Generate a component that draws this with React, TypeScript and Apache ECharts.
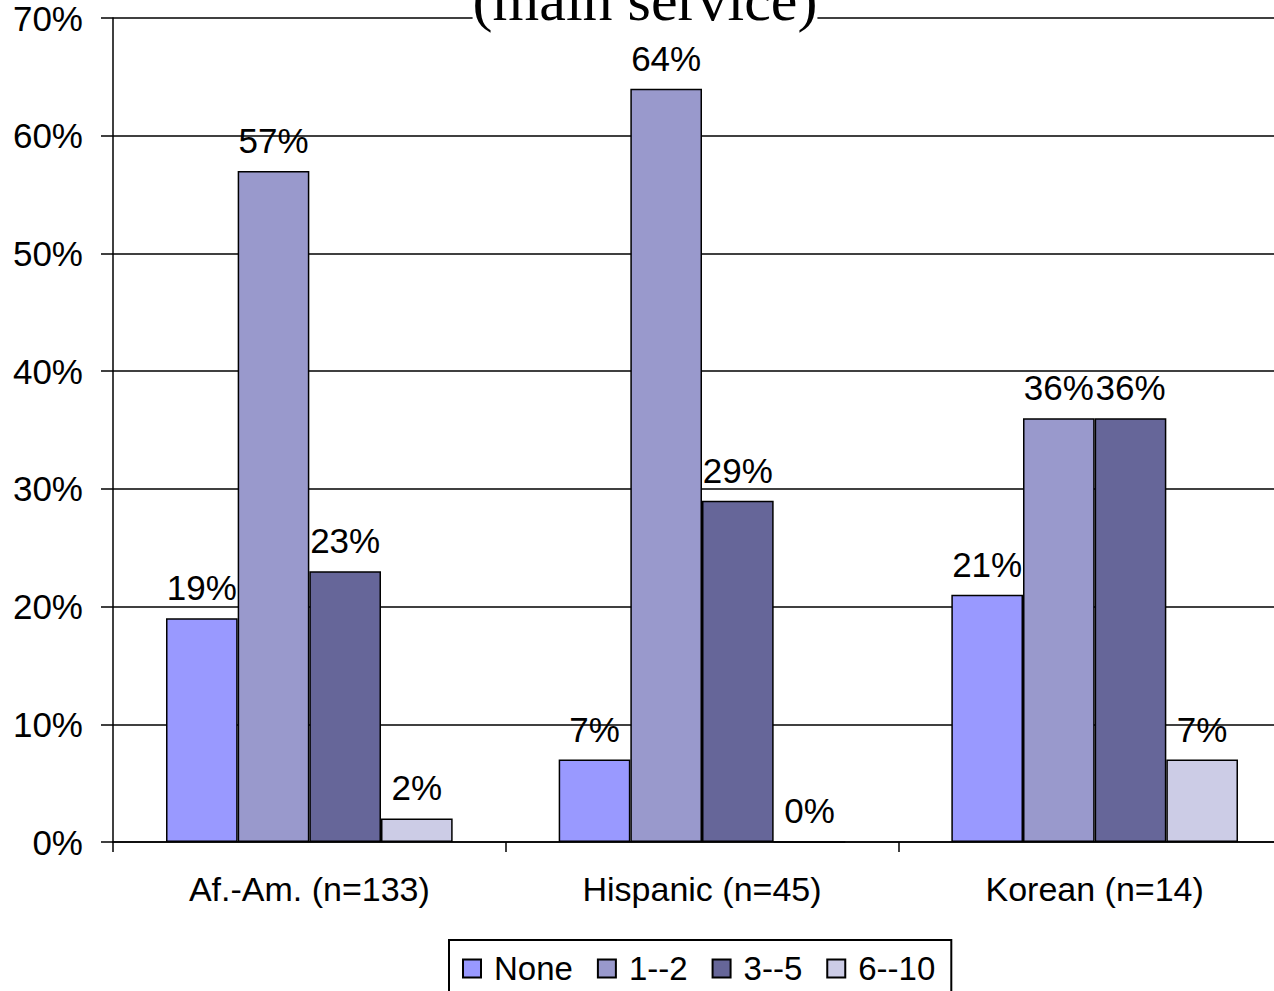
import React, { useEffect, useRef } from "react";
import * as echarts from "echarts";

const categories = ["Af.-Am. (n=133)", "Hispanic (n=45)", "Korean (n=14)"];
const seriesNames = ["None", "1--2", "3--5", "6--10"];
const noneValues = [19, 7, 21];
const oneTwoValues = [57, 64, 36];
const threeFiveValues = [23, 29, 36];
const sixTenValues = [2, 0, 7];
const seriesColors = ["#9999FF", "#9999CC", "#666699", "#CCCCE6"];
const titleText = "(main service)";

const FONT = "'Liberation Sans', Arial, sans-serif";

export default function App() {
  const ref = useRef<HTMLDivElement>(null);
  useEffect(() => {
    document.body.style.margin = "0";
    if (!ref.current) return;
    const chart = echarts.init(ref.current, null, { renderer: "svg" });
    const values = [noneValues, oneTwoValues, threeFiveValues, sixTenValues];
    chart.setOption({
      animation: false,
      backgroundColor: "#ffffff",
      grid: { left: 113, right: 0, top: 18, bottom: 149, containLabel: false },
      legend: {
        left: 449,
        top: 940,
        icon: "rect",
        itemWidth: 18,
        itemHeight: 18,
        itemGap: 24,
        padding: [12, 16, 30, 13],
        borderColor: "#000",
        borderWidth: 2,
        textStyle: { fontSize: 33, color: "#000", fontFamily: FONT, padding: [0, 0, 0, 8] },
        data: seriesNames,
      },
      xAxis: {
        type: "category",
        data: categories,
        axisLine: { lineStyle: { color: "#000", width: 1.5 } },
        axisTick: { show: true, length: 10, lineStyle: { color: "#000", width: 1.5 } },
        axisLabel: { color: "#000", fontSize: 34, fontFamily: FONT, margin: 30 },
      },
      yAxis: {
        type: "value",
        min: 0,
        max: 70,
        interval: 10,
        axisLine: { show: true, lineStyle: { color: "#000", width: 1.5 } },
        axisTick: { show: true, length: 12, lineStyle: { color: "#000", width: 1.5 } },
        axisLabel: { color: "#000", fontSize: 35, fontFamily: FONT, margin: 30, formatter: "{value}%" },
        splitLine: { show: true, lineStyle: { color: "#000", width: 1.5 } },
      },
      graphic: [
        {
          type: "text",
          z: 100,
          x: 645,
          y: 0,
          style: {
            text: titleText,
            font: "60px 'Liberation Serif', 'Times New Roman', serif",
            fill: "#000",
            align: "center",
            verticalAlign: "middle",
            backgroundColor: "#fff",
          },
        },
      ],
      series: seriesNames.map((name, i) => ({
        name,
        type: "bar",
        data: values[i],
        barGap: "0%",
        barCategoryGap: "27%",
        itemStyle: { color: seriesColors[i], borderColor: "#000", borderWidth: 1.5 },
        label: {
          show: true,
          position: "top",
          distance: 13,
          color: "#000",
          fontSize: 35,
          fontFamily: FONT,
          formatter: "{c}%",
        },
      })),
    });
    return () => chart.dispose();
  }, []);
  return (
    <div style={{ width: 1274, height: 991, overflow: "hidden", position: "relative" }}>
      <div ref={ref} style={{ width: 1291, height: 991 }} />
    </div>
  );
}
